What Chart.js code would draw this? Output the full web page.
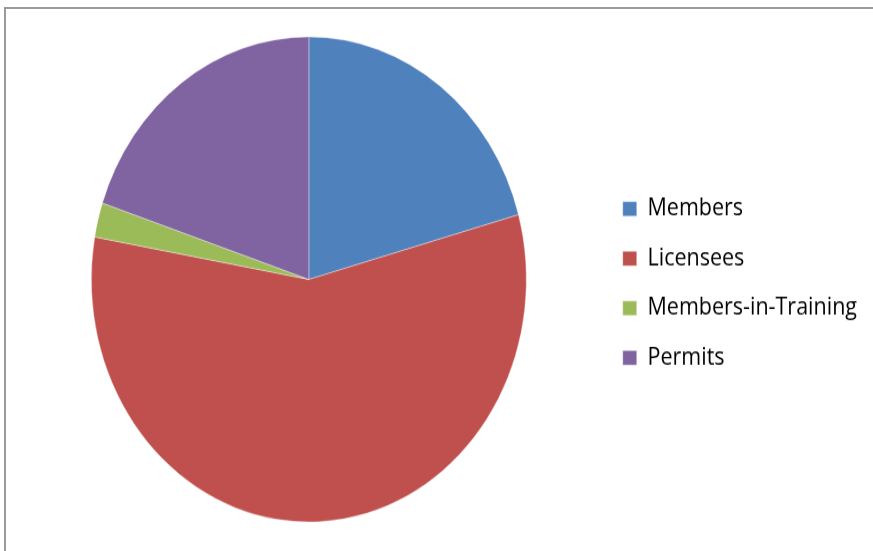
<!DOCTYPE html>
<html>
<head>
<meta charset="utf-8">
<script src="https://cdn.jsdelivr.net/npm/chart.js@4"></script>
<style>
html, body { margin: 0; padding: 0; background: #fff; overflow: hidden; }
#frame { position: absolute; left: 4px; top: 7px; width: 1000px; height: 1000px;
         border-left: 2px solid #9a9a9a; border-top: 2px solid #9a9a9a; }
/* the original picture is stretched vertically, so the whole chart is too */
#stretch { position: absolute; left: 0; top: 0; width: 873px; height: 494px;
           transform-origin: 0 0; transform: scale(1, 1.1154); }
</style>
</head>
<body>
<div id="frame"></div>
<div id="stretch"><canvas id="pie" width="873" height="494" style="width:873px;height:494px"></canvas></div>
<script>
const categories = ['Members', 'Licensees', 'Members-in-Training', 'Permits'];
const shares = [20.7, 57.1, 2.3, 19.9];
const sliceColors = ['#4F81BD', '#C0504D', '#9BBB59', '#8064A2'];

const ctx = document.getElementById('pie').getContext('2d');

new Chart(ctx, {
    type: 'pie',
    data: {
        labels: categories,
        datasets: [{
            data: shares,
            backgroundColor: sliceColors,
            borderColor: 'rgba(255,255,255,0.35)',
            borderWidth: 1
        }]
    },
    options: {
        responsive: false,
        animation: false,
        layout: {
            padding: { left: 18, right: 6, top: 32.5, bottom: 25.5 }
        },
        plugins: {
            tooltip: { enabled: false },
            legend: {
                position: 'right',
                // empty title only nudges the items down a little
                title: { display: true, text: ' ', font: { size: 1 }, padding: { top: 3, bottom: 3 } },
                labels: {
                    boxWidth: 14,
                    boxHeight: 13,
                    padding: 23,
                    color: '#000',
                    font: { family: 'Open Sans', size: 21.5, weight: 500 }
                }
            }
        }
    }
});
</script>
</body>
</html>
